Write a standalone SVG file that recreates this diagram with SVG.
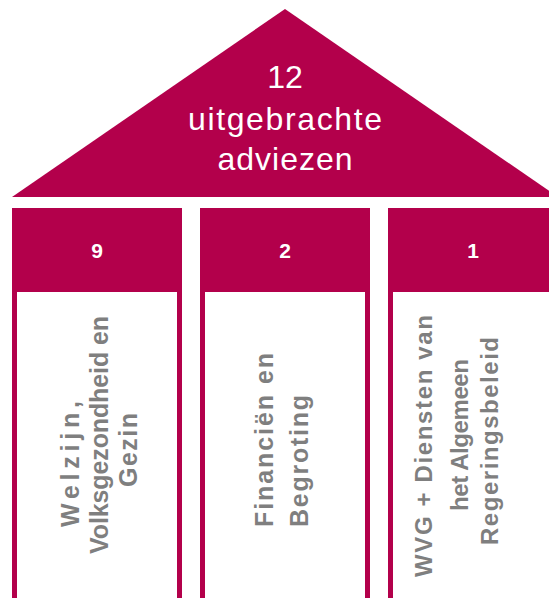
<svg xmlns="http://www.w3.org/2000/svg" width="549" height="598" viewBox="0 0 549 598">
<style>
.mag{fill:#B3004B}
.wh{fill:#FFFFFF}
.roof{font-family:"Liberation Sans",Arial,sans-serif;font-size:32px;fill:#FFFFFF;text-anchor:middle}
.num{font-family:"Liberation Sans",Arial,sans-serif;font-size:21px;font-weight:bold;fill:#FFFFFF;text-anchor:middle}
.lbl{font-family:"Liberation Sans",Arial,sans-serif;font-weight:bold;fill:#7F7F7F;text-anchor:middle}
</style>
<rect width="549" height="598" fill="#FFFFFF"/>
<g id="roof">
<polygon class="mag" points="12,197 285,9 558,197"/>
<text class="roof" x="285" y="88">12</text>
<text class="roof" x="285" y="130" textLength="194" lengthAdjust="spacing">uitgebrachte</text>
<text class="roof" x="285" y="170" textLength="135" lengthAdjust="spacing">adviezen</text>
</g>
<g id="pillar1">
<rect class="mag" x="12" y="208" width="170" height="400"/>
<rect class="wh" x="17" y="292" width="160" height="320"/>
<text class="num" x="97" y="258">9</text>
<g class="lbl" font-size="25">
<text transform="translate(79,464) rotate(-90)" textLength="126" lengthAdjust="spacing">Welzijn,</text>
<text transform="translate(108,435) rotate(-90)" textLength="238" lengthAdjust="spacing">Volksgezondheid en</text>
<text transform="translate(137,450) rotate(-90)" textLength="74" lengthAdjust="spacing">Gezin</text>
</g>
</g>
<g id="pillar2">
<rect class="mag" x="200" y="208" width="170" height="400"/>
<rect class="wh" x="205" y="292" width="160" height="320"/>
<text class="num" x="285" y="258">2</text>
<g class="lbl" font-size="25">
<text transform="translate(273,440) rotate(-90)" textLength="174" lengthAdjust="spacing">Financiën en</text>
<text transform="translate(308,461) rotate(-90)" textLength="132" lengthAdjust="spacing">Begroting</text>
</g>
</g>
<g id="pillar3">
<rect class="mag" x="388" y="208" width="170" height="400"/>
<rect class="wh" x="393" y="292" width="160" height="320"/>
<text class="num" x="473" y="258">1</text>
<g class="lbl" font-size="24">
<text transform="translate(432,446) rotate(-90)" textLength="262" lengthAdjust="spacing">WVG + Diensten van</text>
<text transform="translate(468,435) rotate(-90)" textLength="152" lengthAdjust="spacing">het Algemeen</text>
<text transform="translate(498,441) rotate(-90)" textLength="208" lengthAdjust="spacing">Regeringsbeleid</text>
</g>
</g>
<g id="connectors"/>
</svg>
